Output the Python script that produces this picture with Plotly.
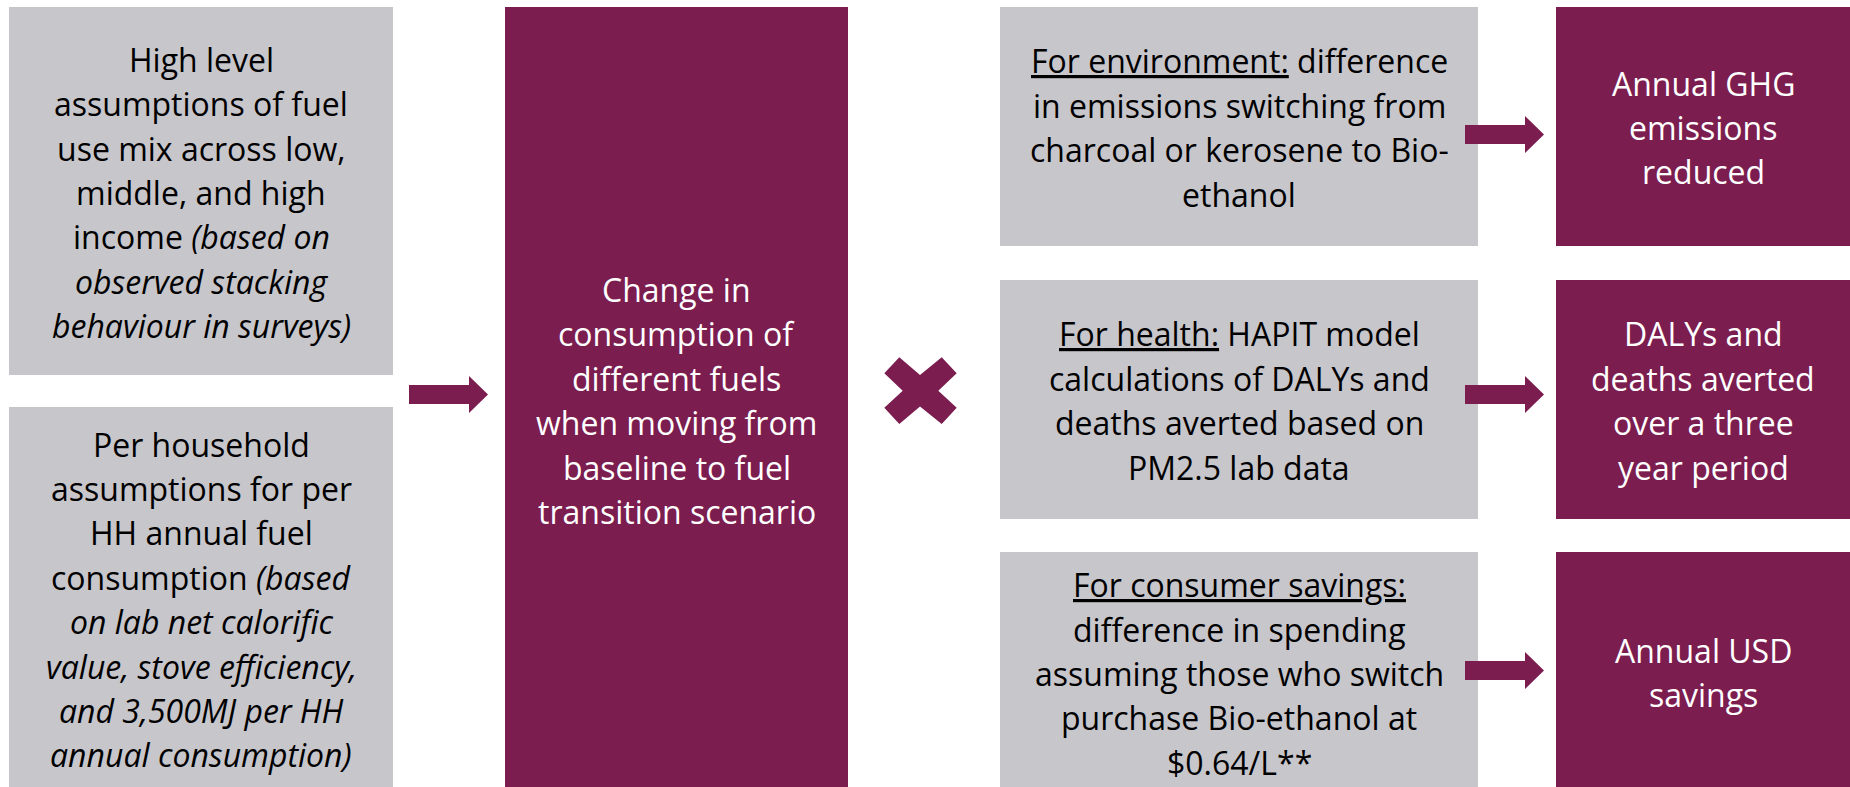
import plotly.graph_objects as go

W, H = 1850, 787
PURPLE = "#7B1D4F"
GRAY = "#C7C6CB"
FONT = "Open Sans"
FS = 32
LINE = 44.4

# ---- diagram content ----
inputs_top = ["High level", "assumptions of fuel", "use mix across low,", "middle, and high",
              "income <i>(based on</i>", "<i>observed stacking</i>", "<i>behaviour in surveys)</i>"]
inputs_bottom = ["Per household", "assumptions for per", "HH annual fuel", "consumption <i>(based</i>",
                 "<i>on lab net calorific</i>", "<i>value, stove efficiency,</i>",
                 "<i>and 3,500MJ per HH</i>", "<i>annual consumption)</i>"]
middle_text = ["Change in", "consumption of", "different fuels", "when moving from",
               "baseline to fuel", "transition scenario"]
method_env = ["<u>For environment:</u> difference", "in emissions switching from",
              "charcoal or kerosene to Bio-", "ethanol"]
method_health = ["<u>For health:</u> HAPIT model", "calculations of DALYs and",
                 "deaths averted based on", "PM2.5 lab data"]
method_savings = ["<u>For consumer savings:</u>", "difference in spending",
                  "assuming those who switch", "purchase Bio-ethanol at", "$0.64/L**"]
outcome_env = ["Annual GHG", "emissions", "reduced"]
outcome_health = ["DALYs and", "deaths averted", "over a three", "year period"]
outcome_savings = ["Annual USD", "savings"]

# ---- layout geometry (pixels) ----
LEFT_X = (9, 393)
LEFT_ROWS = [(7, 375), (407, 787)]
MID_BOX = (505, 7, 848, 787)
RIGHT_X = (1000, 1478)
OUT_X = (1556, 1850)
RIGHT_ROWS = [(7, 246), (280, 519), (552, 787)]

shapes = []
annotations = []


def box(x0, y0, x1, y1, color):
    shapes.append(dict(type="rect", xref="x", yref="y", x0=x0, x1=x1, y0=y0, y1=y1,
                       fillcolor=color, line=dict(width=0), layer="below"))


def text_block(lines, x0, y0, x1, y1, color, offset=14, size=FS):
    cx = (x0 + x1) / 2
    mid = (y0 + y1) / 2 + offset
    n = len(lines)
    for i, t in enumerate(lines):
        base = mid + (i - (n - 1) / 2) * LINE
        annotations.append(dict(x=cx, y=base - 0.39 * size, xref="x", yref="y", text=t,
                                showarrow=False, xanchor="center", yanchor="middle",
                                font=dict(family=FONT, size=size, color=color)))


def arrow(x0, xb, x1, yc, body_h, head_h):
    p = (f"M {x0} {yc - body_h / 2} L {xb} {yc - body_h / 2} L {xb} {yc - head_h / 2} "
         f"L {x1} {yc} L {xb} {yc + head_h / 2} L {xb} {yc + body_h / 2} L {x0} {yc + body_h / 2} Z")
    shapes.append(dict(type="path", xref="x", yref="y", path=p, fillcolor=PURPLE,
                       line=dict(width=0), layer="above"))


# left input boxes
for (y0, y1), lines in zip(LEFT_ROWS, [inputs_top, inputs_bottom]):
    box(LEFT_X[0], y0, LEFT_X[1], y1, GRAY)
    text_block(lines, LEFT_X[0], y0, LEFT_X[1], y1, "black", offset=14 if y0 < 100 else 15)

# arrow into middle
arrow(409, 469, 488, 394.5, 19, 37)

# middle box
box(*MID_BOX, PURPLE)
text_block(middle_text, *MID_BOX, "white", offset=16)

# multiply sign
xpts = [(884.3, 373.3), (899.3, 357.3), (920, 375), (941.7, 357.3), (956.7, 373.3),
        (938.3, 390.7), (956.7, 407.7), (941.7, 424), (920, 406.5), (899.3, 424),
        (884.3, 407.7), (902.7, 390.7)]
xpath = "M " + " L ".join(f"{a} {b}" for a, b in xpts) + " Z"
shapes.append(dict(type="path", xref="x", yref="y", path=xpath, fillcolor=PURPLE,
                   line=dict(width=0), layer="above"))

# right columns
methods = [method_env, method_health, method_savings]
outcomes = [outcome_env, outcome_health, outcome_savings]
arrow_y = [134.5, 394.5, 670.5]
offs_m = [13.5, 13.5, 16.5]
offs_o = [13.5, 13.5, 15.5]
for (y0, y1), m, o, ay, om, oo in zip(RIGHT_ROWS, methods, outcomes, arrow_y, offs_m, offs_o):
    box(RIGHT_X[0], y0, RIGHT_X[1], y1, GRAY)
    text_block(m, RIGHT_X[0], y0, RIGHT_X[1], y1, "black", offset=om)
    box(OUT_X[0], y0, OUT_X[1], y1, PURPLE)
    text_block(o, OUT_X[0], y0, OUT_X[1], y1, "white", offset=oo)
    arrow(1465, 1525, 1544, ay, 19, 37)

fig = go.Figure()
fig.update_layout(
    width=W, height=H, margin=dict(l=0, r=0, t=0, b=0, pad=0),
    paper_bgcolor="white", plot_bgcolor="white", showlegend=False,
    xaxis=dict(range=[0, W], visible=False, fixedrange=True),
    yaxis=dict(range=[H, 0], visible=False, fixedrange=True),
    shapes=shapes, annotations=annotations,
)
fig.write_html("out.html", config={"displayModeBar": False},
               post_script="document.body.style.margin='0';document.body.style.overflow='hidden';")
